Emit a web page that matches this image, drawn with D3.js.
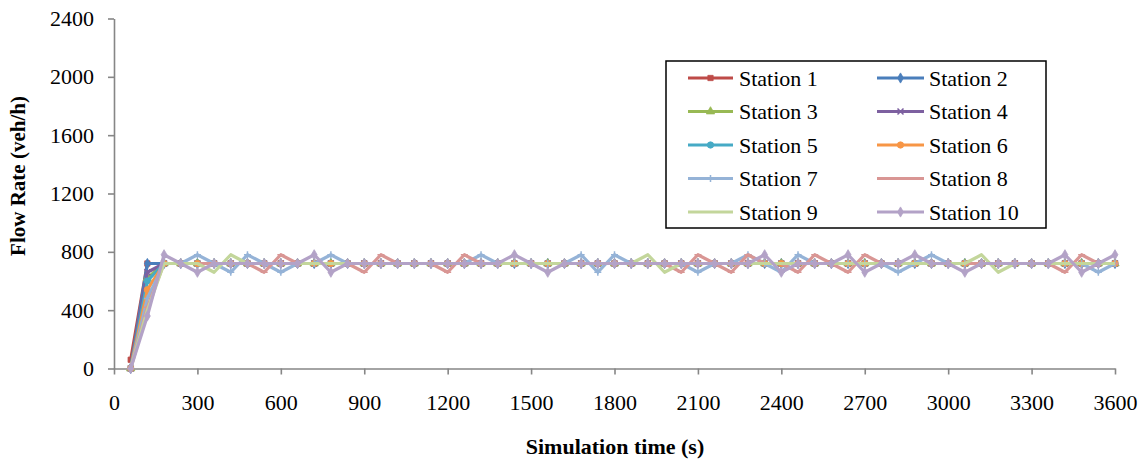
<!DOCTYPE html>
<html>
<head>
<meta charset="utf-8">
<script src="https://cdn.jsdelivr.net/npm/d3@7"></script>
<style>
  html, body { margin: 0; padding: 0; background: #fff; }
  svg { display: block; }
</style>
</head>
<body>
<svg id="chart" width="1145" height="461"></svg>
<script>
// Simulation time stamps (s), one reading per minute
const times = [60,120,180,240,300,360,420,480,540,600,660,720,780,840,900,960,1020,1080,1140,1200,
  1260,1320,1380,1440,1500,1560,1620,1680,1740,1800,1860,1920,1980,2040,2100,2160,2220,2280,2340,2400,
  2460,2520,2580,2640,2700,2760,2820,2880,2940,3000,3060,3120,3180,3240,3300,3360,3420,3480,3540,3600];

const stationNames = ["Station 1","Station 2","Station 3","Station 4","Station 5",
  "Station 6","Station 7","Station 8","Station 9","Station 10"];

// Flow rate (veh/h) per station
const station1 = [60,720,720,720,720,720,720,720,720,720, 720,720,720,720,720,720,720,720,720,720,
  720,720,720,720,720,720,720,720,720,720, 720,720,720,720,720,720,720,720,720,720,
  720,720,720,720,720,720,720,720,720,720, 720,720,720,720,720,720,720,720,720,720];
const station2 = [0,720,720,720,720,720,720,720,720,720, 720,720,720,720,720,720,720,720,720,720,
  720,720,720,720,720,720,720,720,720,720, 720,720,720,720,720,720,720,720,720,720,
  720,720,720,720,720,720,720,720,720,720, 720,720,720,720,720,720,720,720,720,720];
const station3 = [0,620,720,720,720,720,720,720,720,720, 720,720,720,720,720,720,720,720,720,720,
  720,720,720,720,720,720,720,720,720,720, 720,720,720,720,720,720,720,720,720,720,
  720,720,720,720,720,720,720,720,720,720, 720,720,720,720,720,720,720,720,720,720];
const station4 = [0,660,720,720,720,720,720,720,720,720, 720,720,720,720,720,720,720,720,720,720,
  720,720,720,720,720,720,720,720,720,720, 720,720,720,720,720,720,720,720,720,720,
  720,720,720,720,720,720,720,720,720,720, 720,720,720,720,720,720,720,720,720,720];
const station5 = [0,600,720,720,720,720,720,720,720,720, 720,720,720,720,720,720,720,720,720,720,
  720,720,720,720,720,720,720,720,720,720, 720,720,720,720,720,720,720,720,720,720,
  720,720,720,720,720,720,720,720,720,720, 720,720,720,720,720,720,720,720,720,720];
const station6 = [0,540,720,720,720,720,720,720,720,720, 720,720,720,720,720,720,720,720,720,720,
  720,720,720,720,720,720,720,720,720,720, 720,720,720,720,720,720,720,720,720,720,
  720,720,720,720,720,720,720,720,720,720, 720,720,720,720,720,720,720,720,720,720];
const station7 = [0,480,720,720,780,720,660,780,720,660, 720,720,780,720,720,720,720,720,720,720,
  720,780,720,720,720,720,720,780,660,780, 720,720,720,720,660,720,720,780,720,660,
  780,720,720,720,720,720,660,720,780,720, 720,720,720,720,720,720,720,720,660,720];
const station8 = [0,420,720,720,720,720,720,720,660,780, 720,720,720,720,660,780,720,720,720,660,
  780,720,720,720,720,720,720,720,720,720, 720,720,720,660,780,720,660,780,720,720,
  660,780,720,660,780,720,720,720,720,720, 720,720,720,720,720,720,660,780,720,720];
const station9 = [0,400,720,720,720,660,780,720,720,720, 720,720,720,720,720,720,720,720,720,720,
  720,720,720,720,720,720,720,720,720,720, 720,780,660,720,720,720,720,720,720,720,
  720,720,720,720,720,720,720,720,720,720, 720,780,660,720,720,720,720,720,720,720];
const station10 = [0,360,780,720,660,720,720,720,720,720, 720,780,660,720,720,720,720,720,720,720,
  720,720,720,780,720,660,720,720,720,720, 720,720,720,720,720,720,720,720,780,660,
  720,720,720,780,660,720,720,780,720,720, 660,720,720,720,720,720,780,660,720,780];

const xTicks = [0,300,600,900,1200,1500,1800,2100,2400,2700,3000,3300,3600];
const yTicks = [0,400,800,1200,1600,2000,2400];

const seriesValues = [station1,station2,station3,station4,station5,
  station6,station7,station8,station9,station10];

const colors = ["#BE4B48","#4A7EBB","#98B954","#7D60A0","#46AAC5",
  "#F79646","#95B3D7","#D99694","#C3D69B","#B3A2C7"];
const markers = ["square","diamond","triangle","cross","circle",
  "circle","plus","dash","none","diamond"];

const FONT = "Liberation Serif";

const svg = d3.select("#chart");
const x = d3.scaleLinear().domain([0, 3600]).range([114, 1115]);
const y = d3.scaleLinear().domain([0, 2400]).range([368.5, 18.5]);
const axisColor = "#868686";

// Axes
const gx = svg.append("g").attr("transform", `translate(0,${y(0)})`)
  .call(d3.axisBottom(x).tickValues(xTicks).tickSize(6).tickPadding(20).tickSizeOuter(0)
    .tickFormat(d3.format("d")));
const gy = svg.append("g").attr("transform", `translate(${x(0)},0)`)
  .call(d3.axisLeft(y).tickValues(yTicks).tickSize(6).tickPadding(14).tickSizeOuter(0)
    .tickFormat(d3.format("d")));
[gx, gy].forEach(g => {
  g.attr("font-family", null).attr("font-size", null);
  g.select(".domain").attr("stroke", axisColor).attr("stroke-width", 1.6);
  g.selectAll(".tick line").attr("stroke", axisColor).attr("stroke-width", 1.6);
  g.selectAll(".tick text").style("font-family", FONT)
    .style("font-size", "22px").attr("fill", "#000");
});

// Marker shape for a series
function markerPath(kind) {
  switch (kind) {
    case "square": return d3.symbol(d3.symbolSquare, 28)();
    case "diamond": return d3.symbol(d3.symbolDiamond, 30)();
    case "triangle": return d3.symbol(d3.symbolTriangle, 30)();
    case "circle": return d3.symbol(d3.symbolCircle, 32)();
    case "cross": return "M-3,-3L3,3M-3,3L3,-3";
    case "plus": return "M-3.5,0L3.5,0M0,-3.5L0,3.5";
    case "dash": return "M-3.5,0L3.5,0";
    default: return null;
  }
}
function drawMarker(g, kind, color) {
  const p = markerPath(kind);
  if (!p) return;
  const stroked = kind === "cross" || kind === "plus" || kind === "dash";
  g.append("path").attr("d", p)
    .attr("fill", stroked ? "none" : color)
    .attr("stroke", color).attr("stroke-width", stroked ? 1.5 : 0.8);
}

// Series lines
const line = d3.line().x((d, i) => x(times[i])).y(d => y(d));
const plot = svg.append("g");
seriesValues.forEach((vals, s) => {
  const g = plot.append("g");
  g.append("path").datum(vals).attr("d", line)
    .attr("fill", "none").attr("stroke", colors[s])
    .attr("stroke-width", 3.2).attr("stroke-linejoin", "round");
  vals.forEach((v, i) => {
    const m = g.append("g").attr("transform", `translate(${x(times[i])},${y(v)})`);
    drawMarker(m, markers[s], colors[s]);
  });
});

// Axis titles
svg.append("text")
  .attr("transform", `translate(25,176) rotate(-90)`)
  .attr("text-anchor", "middle")
  .style("font-family", FONT).style("font-weight", "bold").style("font-size", "21px")
  .text("Flow Rate  (veh/h)");
svg.append("text")
  .attr("x", 615).attr("y", 454)
  .attr("text-anchor", "middle")
  .style("font-family", FONT).style("font-weight", "bold").style("font-size", "22px")
  .text("Simulation time (s)");

// Legend
const legend = svg.append("g");
legend.append("rect").attr("x", 666).attr("y", 61).attr("width", 380).attr("height", 167)
  .attr("fill", "#fff").attr("stroke", "#000").attr("stroke-width", 1.5);
stationNames.forEach((name, s) => {
  const col = s % 2, row = Math.floor(s / 2);
  const ly = 78 + row * 33.5;
  const lx0 = col === 0 ? 688 : 877;
  const lx1 = col === 0 ? 733 : 924;
  const tx = col === 0 ? 739 : 929;
  const g = legend.append("g");
  g.append("line").attr("x1", lx0).attr("x2", lx1).attr("y1", ly).attr("y2", ly)
    .attr("stroke", colors[s]).attr("stroke-width", 3.2);
  const m = g.append("g").attr("transform", `translate(${(lx0 + lx1) / 2},${ly})`);
  drawMarker(m, markers[s], colors[s]);
  g.append("text").attr("x", tx).attr("y", ly).attr("dy", "0.35em")
    .style("font-family", FONT).style("font-size", "22px").text(name);
});
</script>
</body>
</html>
